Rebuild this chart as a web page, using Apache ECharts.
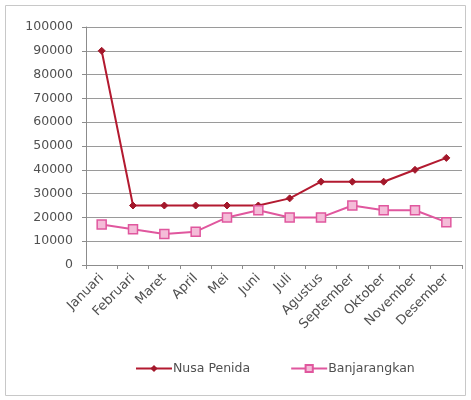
<!DOCTYPE html>
<html>
<head>
<meta charset="utf-8">
<script src="https://cdn.jsdelivr.net/npm/echarts@6/dist/echarts.min.js"></script>
<style>
  html, body { margin: 0; padding: 0; background: #fff; }
  #chart { width: 471px; height: 400px; }
</style>
</head>
<body>
<div id="chart"></div>
<script>
// Monthly figures for two districts
const months = ['Januari', 'Februari', 'Maret', 'April', 'Mei', 'Juni', 'Juli',
  'Agustus', 'September', 'Oktober', 'November', 'Desember'];
const nusaPenida = [90000, 25000, 25000, 25000, 25000, 25000, 28000, 35000, 35000, 35000, 40000, 45000];
const banjarangkan = [17000, 15000, 13000, 14000, 20000, 23000, 20000, 20000, 25000, 23000, 23000, 18000];
const yTicks = { min: 0, max: 100000, step: 10000 };

const font = '"DejaVu Sans", sans-serif';
const textColor = '#505050';
const chart = echarts.init(document.getElementById('chart'));
chart.setOption({
  animation: false,
  backgroundColor: '#fff',
  graphic: [{
    type: 'rect',
    shape: { x: 5.5, y: 5.5, width: 460, height: 390 },
    style: { fill: 'none', stroke: '#c8c8c8', lineWidth: 1 },
    silent: true
  }],
  grid: { left: 86, right: 9, top: 27, bottom: 135 },
  legend: {
    bottom: 20,
    left: 130,
    itemGap: 40,
    itemWidth: 36,
    itemHeight: 9,
    textStyle: { fontFamily: font, fontSize: 12.5, color: textColor, padding: [0, 0, 0, -4] },
    data: ['Nusa Penida', 'Banjarangkan']
  },
  xAxis: {
    type: 'category',
    data: months,
    boundaryGap: true,
    axisLine: { lineStyle: { color: '#8c8c8c' } },
    axisTick: { show: true, length: 4, lineStyle: { color: '#8c8c8c' } },
    axisLabel: { rotate: 45, fontFamily: font, fontSize: 13, color: textColor, margin: 11, interval: 0 }
  },
  yAxis: {
    type: 'value',
    min: yTicks.min,
    max: yTicks.max,
    interval: yTicks.step,
    axisLine: { show: true, lineStyle: { color: '#8c8c8c' } },
    axisTick: { show: true, length: 4, lineStyle: { color: '#8c8c8c' } },
    axisLabel: { fontFamily: font, fontSize: 12.5, color: textColor, margin: 13, formatter: v => String(v) },
    splitLine: { lineStyle: { color: '#9a9a9a', width: 1 } }
  },
  series: [
    {
      name: 'Nusa Penida',
      type: 'line',
      data: nusaPenida,
      symbol: 'diamond',
      symbolSize: 7,
      itemStyle: { color: '#a3182b', borderColor: '#a3182b' },
      lineStyle: { color: '#b31a30', width: 2 }
    },
    {
      name: 'Banjarangkan',
      type: 'line',
      data: banjarangkan,
      symbol: 'rect',
      symbolSize: 9,
      itemStyle: { color: '#f4bcd8', borderColor: '#e0579e', borderWidth: 1.5 },
      lineStyle: { color: '#e0579e', width: 2 }
    }
  ]
});
</script>
</body>
</html>
